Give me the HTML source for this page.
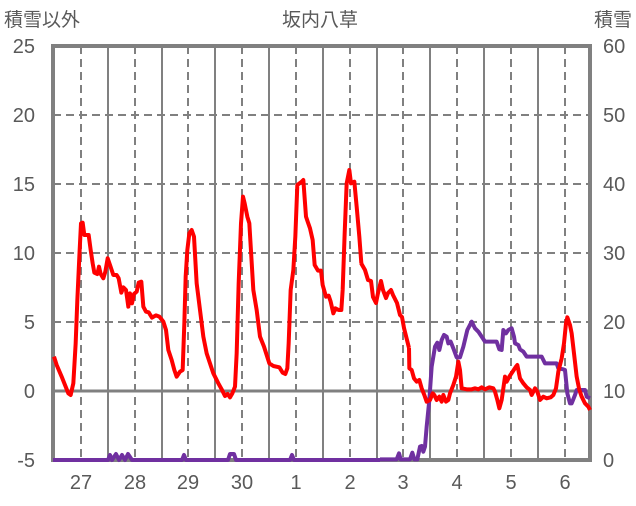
<!DOCTYPE html>
<html><head><meta charset="utf-8"><style>
body{margin:0;background:#fff;width:636px;height:501px;overflow:hidden}
text{font-family:"Liberation Sans","Noto Sans CJK JP",sans-serif;fill:#595959}
</style></head><body>
<svg width="636" height="501" viewBox="0 0 636 501" xmlns="http://www.w3.org/2000/svg">
<g stroke="#808080" stroke-width="2" fill="none">
<g stroke-dasharray="8,5">
<line x1="53" y1="115" x2="590" y2="115"/><line x1="53" y1="184" x2="590" y2="184"/>
<line x1="53" y1="253" x2="590" y2="253"/><line x1="53" y1="322" x2="590" y2="322"/>
<line x1="81" y1="46" x2="81" y2="460"/><line x1="135" y1="46" x2="135" y2="460"/>
<line x1="188" y1="46" x2="188" y2="460"/><line x1="242" y1="46" x2="242" y2="460"/>
<line x1="296" y1="46" x2="296" y2="460"/><line x1="350" y1="46" x2="350" y2="460"/>
<line x1="403" y1="46" x2="403" y2="460"/><line x1="457" y1="46" x2="457" y2="460"/>
<line x1="511" y1="46" x2="511" y2="460"/><line x1="565" y1="46" x2="565" y2="460"/>
</g>
<line x1="108" y1="46" x2="108" y2="460"/><line x1="162" y1="46" x2="162" y2="460"/>
<line x1="215" y1="46" x2="215" y2="460"/><line x1="269" y1="46" x2="269" y2="460"/>
<line x1="323" y1="46" x2="323" y2="460"/><line x1="377" y1="46" x2="377" y2="460"/>
<line x1="430" y1="46" x2="430" y2="460"/><line x1="484" y1="46" x2="484" y2="460"/>
<line x1="538" y1="46" x2="538" y2="460"/>
<line x1="53" y1="391" x2="590" y2="391" stroke-width="3"/>
<rect x="53" y="46" width="537" height="414" stroke-width="4"/>
</g>
<g transform="translate(40,150) scale(0.33333)">
<polyline fill="none" stroke="#ff0000" stroke-width="12" stroke-linejoin="round" points="42,620 50,645 65,680 75,705 85,730 92,735 100,700 107,580 112,450 118,320 123,220 128,218 133,255 146,255 152,300 158,340 163,368 172,372 177,350 182,372 190,385 196,365 203,325 210,345 220,375 230,375 236,385 244,428 250,412 258,420 265,470 270,430 276,460 282,432 290,425 296,398 304,395 310,470 318,485 326,487 336,503 348,496 358,500 370,515 378,540 385,600 395,630 403,660 410,680 420,665 428,660 433,520 437,380 442,300 448,250 455,240 462,260 470,400 480,480 490,560 500,610 510,640 520,670 535,700 545,718 555,738 563,732 570,742 577,730 585,710 590,610 596,400 603,220 609,140 614,160 622,200 628,220 640,420 650,480 660,560 672,590 680,615 688,640 700,648 718,652 728,668 736,672 742,655 746,580 752,420 760,360 766,260 772,105 785,95 790,90 798,200 803,215 810,235 818,270 824,345 834,362 843,362 848,405 858,440 866,437 872,455 880,490 886,475 896,480 904,480 908,420 914,250 920,100 928,60 933,100 943,95 950,170 958,260 964,340"/>
</g>
<polyline fill="none" stroke="#ff0000" stroke-width="4" stroke-linejoin="round" points="361,263 365,270 368,280 371,281 373,297 376,303 378,293 381,281 383,290 386,298 388,293 391,290 393,295 397,303 400,315 402,317 404,328 407,340 409,348"/>
<polyline fill="none" stroke="#7030a0" stroke-width="4" stroke-linejoin="round" points="53,460 108,460 110,455 112,460 116,454 119,460 122,455 125,460 128,454 132,460 182,460 184,455 186,460 228,460 230,454 234,454 236,460 290,460 292,455 294,460 380,460"/>
<g transform="translate(380,300) scale(0.33333)">
<polyline fill="none" stroke="#7030a0" stroke-width="12" stroke-linejoin="round" points="0,478 50,478 57,460 62,478 90,478 97,458 103,478 112,478 120,440 125,438 130,455 135,440 140,380 148,300 155,200 165,140 172,128 178,150 185,120 192,105 200,110 205,130 212,125 220,145 230,172 240,172 250,140 262,90 275,65 285,85 295,95 305,110 315,125 350,125 358,148 365,150 370,90 378,100 385,90 395,85 402,110 405,130 415,135 420,148 430,155 440,170 485,170 495,190 530,190 535,205 550,208 555,210 562,280 570,310 575,310 585,285 590,270 615,270 620,290 630,295"/>
<polyline fill="none" stroke="#ff0000" stroke-width="12" stroke-linejoin="round" points="87,144 88,205 95,210 102,235 110,245 118,240 125,265 133,285 140,305 150,300 158,280 163,285 170,300 178,290 185,305 190,285 198,305 205,300 210,280 220,255 228,230 235,185 240,210 245,265 260,268 275,268 285,265 295,268 305,262 315,268 328,262 340,265 345,275 352,300 358,325 365,300 375,230 380,245 388,230 398,215 408,200 412,195 420,235 430,250 440,262 450,270 455,285 465,265 472,275 480,300 490,290 500,295 512,292 520,285 528,265 535,215 545,175 552,130 558,70 562,52 570,75 575,100 582,160 590,230 598,270 605,290 615,310 625,320 630,330"/>
</g>
<g font-size="20">
<text x="35" y="53" text-anchor="end">25</text><text x="35" y="122" text-anchor="end">20</text>
<text x="35" y="191" text-anchor="end">15</text><text x="35" y="260" text-anchor="end">10</text>
<text x="35" y="329" text-anchor="end">5</text><text x="35" y="398" text-anchor="end">0</text>
<text x="35" y="467" text-anchor="end">-5</text>
<text x="603" y="53">60</text><text x="603" y="122">50</text><text x="603" y="191">40</text>
<text x="603" y="260">30</text><text x="603" y="329">20</text><text x="603" y="398">10</text>
<text x="603" y="467">0</text>
<g text-anchor="middle">
<text x="81" y="489">27</text><text x="135" y="489">28</text><text x="188" y="489">29</text>
<text x="242" y="489">30</text><text x="296" y="489">1</text><text x="350" y="489">2</text>
<text x="403" y="489">3</text><text x="457" y="489">4</text><text x="511" y="489">5</text>
<text x="565" y="489">6</text></g>
</g>
<g font-size="19">
<text x="4" y="26">積雪以外</text>
<text x="320" y="26" text-anchor="middle">坂内八草</text>
<text x="632" y="26" text-anchor="end">積雪</text>
</g>
</svg>
</body></html>
